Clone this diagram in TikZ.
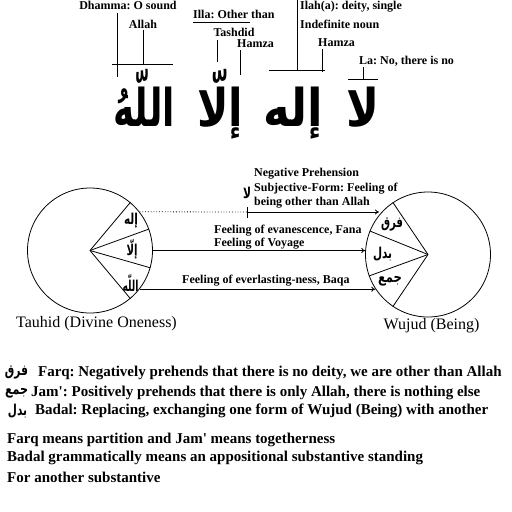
\documentclass[tikz,border=0pt]{standalone}
\usepackage{fontspec}
\setmainfont{Liberation Serif}
\newfontfamily\arabicfont[Script=Arabic]{DejaVu Sans}
\TeXXeTstate=1
\usetikzlibrary{arrows.meta}
\newcommand\fitar[2]{\resizebox{#1}{\height}{\beginR #2\endR}}
\begin{document}
\frenchspacing
\begin{tikzpicture}[x=1pt,y=-1pt,
  lbl/.style={font=\bfseries\fontsize{12}{12}\selectfont, inner sep=0pt},
  lblw/.style={lbl, anchor=west},
  bigar/.style={font=\arabicfont\bfseries\fontsize{52}{52}\selectfont, inner sep=0pt, anchor=base},
  smar/.style={font=\arabicfont\bfseries\fontsize{15}{15}\selectfont, inner sep=0pt},
  circlbl/.style={font=\fontsize{16}{16}\selectfont, inner sep=0pt, anchor=base},
  body/.style={font=\bfseries\fontsize{15}{15}\selectfont, inner sep=0pt, anchor=west},
  ln/.style={line width=0.8pt},
  arr/.style={line width=0.8pt, -{To[length=4pt,width=5pt]}},
  wheel/.style={circle, draw, line width=0.8pt, inner sep=0pt, minimum size=125pt}
]
\useasboundingbox (0,0) rectangle (512,512);

% ---- big Arabic phrase ----
\node[bigar] (wAllah) at (144,126) {\fitar{62pt}{اللّهُ}};
\node[bigar] (wIlla)  at (220,126) {\fitar{46pt}{إلّا}};
\node[bigar] (wIlah)  at (293,126) {\fitar{60pt}{إله}};
\node[bigar] (wLa)    at (363,126) {\fitar{33pt}{لا}};

% ---- top labels ----
\node[lbl]  (dh)   at (128,5)  {Dhamma: O sound};
\node[lbl]  (al)   at (143,24) {Allah};
\node[lblw] (il)   at (193,14) {Illa: Other than};
\node[lbl]  (ta)   at (234,32) {Tashdid};
\node[lblw] (hA)   at (237,44) {Hamza};
\node[lblw] (ilah) at (300,7)  {Ilah(a): deity, single};
\node[lblw] (ind)  at (300,24) {Indefinite noun};
\node[lblw] (hB)   at (318,43) {Hamza};
\node[lblw] (la)   at (359,61) {La: No, there is no};

\coordinate (d1) at (117,13);  \coordinate (d2) at (117,77);
\coordinate (a1) at (143,30);  \coordinate (a2) at (143,64);
\coordinate (a3) at (112,64);  \coordinate (a4) at (173,64);
\coordinate (u1) at (193,22.5);\coordinate (u2) at (250,22.5);
\coordinate (t1) at (217,40);  \coordinate (t2) at (217,62);
\coordinate (h1) at (240,50);  \coordinate (h2) at (240,75);
\coordinate (i1) at (297,0);   \coordinate (i2) at (297,70);
\coordinate (i3) at (269,70);  \coordinate (i4) at (325,70);
\coordinate (k1) at (322,49);  \coordinate (k2) at (322,72);
\coordinate (l1) at (363,67);  \coordinate (l2) at (363,79);
\coordinate (l3) at (348,79);  \coordinate (l4) at (378,79);
\draw[ln] (d1) -- (d2);
\draw[ln] (a1) -- (a2);  \draw[ln] (a3) -- (a4);
\draw[ln] (u1) -- (u2);
\draw[ln] (t1) -- (t2);
\draw[ln] (h1) -- (h2);
\draw[ln] (i1) -- (i2);  \draw[ln] (i3) -- (i4);
\draw[ln] (k1) -- (k2);
\draw[ln] (l1) -- (l2);  \draw[ln] (l3) -- (l4);

% ---- circles ----
\node[wheel] (L) at (90,250.5) {};
\node[wheel] (R) at (428,254.5) {};
\foreach \a in {50,20,-16,-50} \draw[ln] (L.center) -- (L.\a);
\foreach \a in {124,158,200,236} \draw[ln] (R.center) -- (R.\a);

\node[smar] (lw1) at (131,221) {\fitar{14pt}{إله}};
\node[smar] (lw2) at (132,249) {\fitar{11pt}{إلّا}};
\node[smar] (lw3) at (130.5,283) {\fitar{16pt}{اللّه}};
\node[smar] (rw1) at (392,225) {\fitar{22pt}{فرق}};
\node[smar] (rw2) at (382.5,254) {\fitar{19pt}{بدل}};
\node[smar] (rw3) at (390,281) {\fitar{24pt}{جمع}};

\node[circlbl] (tau) at (96.5,327) {Tauhid (Divine Oneness)};
\node[circlbl] (wuj) at (431.5,329) {Wujud (Being)};

% ---- connectors ----
\coordinate (s1) at (L.38);
\coordinate (tk) at (247,212);
\coordinate (tk1) at (247,207); \coordinate (tk2) at (247,218);
\draw[line width=0.8pt, dotted] (s1) -- (tk);
\draw[arr, shorten >=3pt] (tk) -- (R.137 |- tk);
\draw[ln] (tk1) -- (tk2);
\coordinate (s2) at (L.0);
\draw[arr] (s2) -- (R.176.8 |- s2);
\coordinate (s3) at (L.-38);
\draw[arr] (s3) -- (R.213.5 |- s3);

\node[lblw] (n1) at (254,174) {Negative Prehension};
\node[lblw] (n2) at (254,189) {Subjective-Form: Feeling of};
\node[lblw] (n3) at (254,203) {being other than Allah};
\node[smar] (nla) at (247,193) {\fitar{8pt}{لا}};
\node[lblw] (f1) at (214,231) {Feeling of evanescence, Fana};
\node[lblw] (f2) at (214,244) {Feeling of Voyage};
\node[lblw] (f3) at (182,281) {Feeling of everlasting-ness, Baqa};

% ---- bottom text ----
\node[smar] (b1a) at (16.5,373) {\fitar{23pt}{فرق}};
\node[body] (b1)  at (38,373) {Farq: Negatively prehends that there is no deity, we are other than Allah};
\node[smar] (b2a) at (16.5,393) {\fitar{23pt}{جمع}};
\node[body] (b2)  at (31,393) {Jam\textquotesingle: Positively prehends that there is only Allah, there is nothing else};
\node[smar] (b3a) at (17.5,411) {\fitar{19pt}{بدل}};
\node[body] (b3)  at (35,411) {Badal: Replacing, exchanging one form of Wujud (Being) with another};
\node[body] (b4)  at (7,440) {Farq means partition and Jam\textquotesingle{} means togetherness};
\node[body] (b5)  at (7,458) {Badal grammatically means an appositional substantive standing};
\node[body] (b6)  at (7,477) {For another substantive};
\end{tikzpicture}
\end{document}
